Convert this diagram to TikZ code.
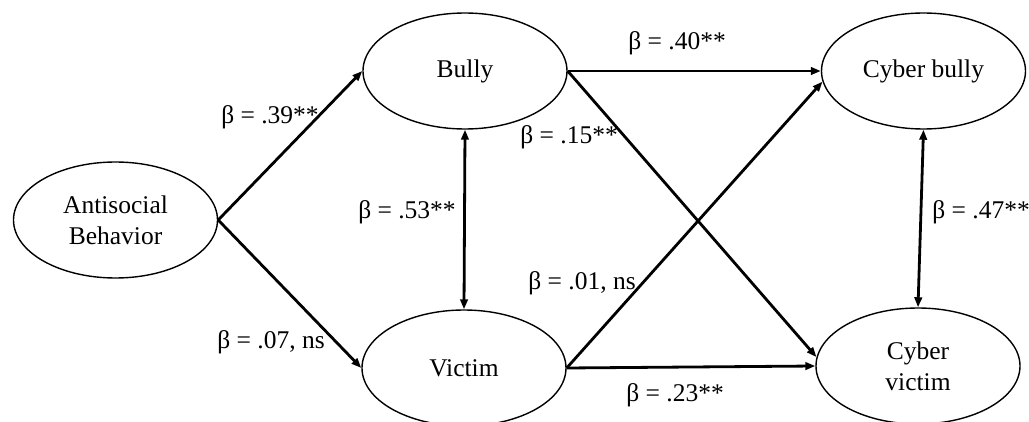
\documentclass[tikz,border=0pt]{standalone}
\usepackage{fontspec}
\setmainfont{Liberation Serif}
\usetikzlibrary{arrows.meta,shapes.geometric}
\begin{document}
\begin{tikzpicture}[x=1pt,y=-1pt,
  var/.style={draw,ellipse,line width=1.4pt,minimum width=204pt,minimum height=116pt,inner sep=0pt,
    font=\fontsize{25.5}{31}\selectfont,align=center},
  path/.style={line width=2.8pt,-{Triangle[length=10pt,width=7.5pt]}},
  cov/.style={line width=2.8pt,{Triangle[length=10pt,width=7.5pt]}-{Triangle[length=10pt,width=7.5pt]}},
  lab/.style={font=\fontsize{25.5}{30}\selectfont,inner sep=0pt}]
\useasboundingbox (0,0) rectangle (1029,422);
\node[var] (anti) at (115.5,220) {Antisocial\\Behavior};
\node[var] (bully) at (465,71) {Bully};
\node[var] (victim) at (464,368) {Victim};
\node[var] (cb) at (923.5,71) {Cyber bully};
\node[var] (cv) at (918,366) {Cyber\\victim};
\draw[path] (anti.east) -- (bully.west);
\draw[path] (anti.east) -- (victim.west);
\draw[cov] (bully.south) -- (victim.north);
\draw[path] (bully.east) -- (cb.west);
\draw[path] (bully.east) -- (cv.175);
\draw[path] (victim.east) -- (cb.186);
\draw[path] (victim.east) -- (cv.west);
\draw[cov] (cb.south) -- (cv.north);
\node[lab] (l1) at (270,117) {β = .39**};
\node[lab] (l2) at (271,342) {β = .07, ns};
\node[lab] (l3) at (407,212) {β = .53**};
\node[lab] (l4) at (677,43) {β = .40**};
\node[lab] (l5) at (569,137) {β = .15**};
\node[lab] (l6) at (582,283) {β = .01, ns};
\node[lab] (l7) at (675,395) {β = .23**};
\node[lab] (l8) at (981,212) {β = .47**};
\end{tikzpicture}
\end{document}
